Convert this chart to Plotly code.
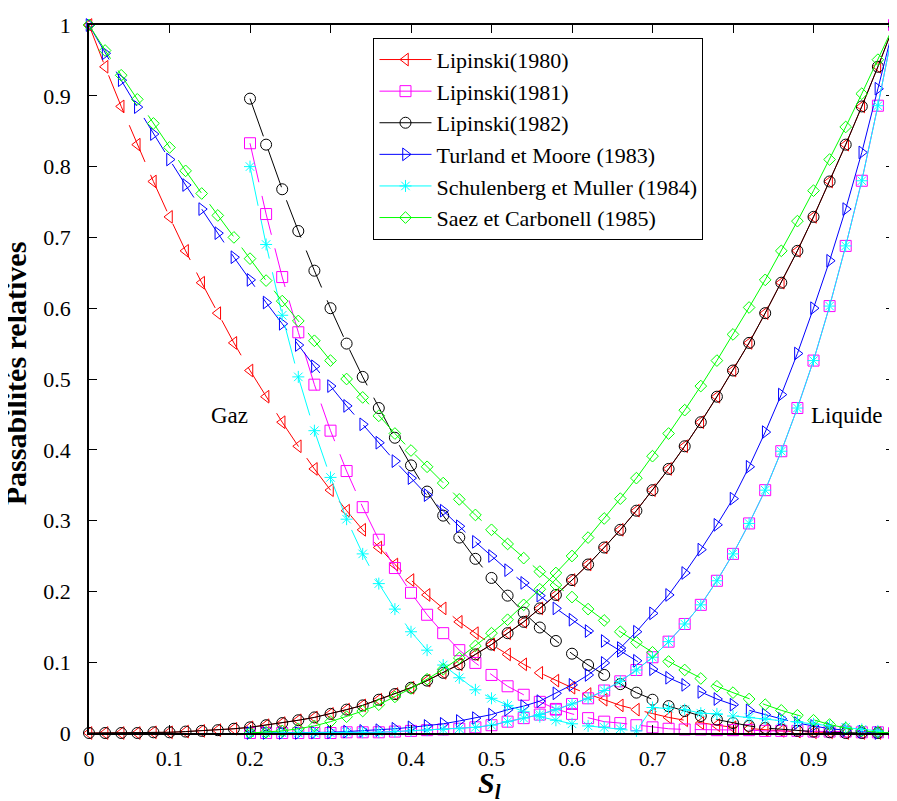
import plotly.graph_objects as go

# Saturation grid (liquid saturation S_l)
S_ALL = [0.00, 0.02, 0.04, 0.06, 0.08, 0.10, 0.12, 0.14, 0.16, 0.18,
         0.20, 0.22, 0.24, 0.26, 0.28, 0.30, 0.32, 0.34, 0.36, 0.38,
         0.40, 0.42, 0.44, 0.46, 0.48, 0.50, 0.52, 0.54, 0.56, 0.58,
         0.60, 0.62, 0.64, 0.66, 0.68, 0.70, 0.72, 0.74, 0.76, 0.78,
         0.80, 0.82, 0.84, 0.86, 0.88, 0.90, 0.92, 0.94, 0.96, 0.98, 1.00]
S_FROM_02 = [0.20, 0.22, 0.24, 0.26, 0.28, 0.30, 0.32, 0.34, 0.36, 0.38,
             0.40, 0.42, 0.44, 0.46, 0.48, 0.50, 0.52, 0.54, 0.56, 0.58,
             0.60, 0.62, 0.64, 0.66, 0.68, 0.70, 0.72, 0.74, 0.76, 0.78,
             0.80, 0.82, 0.84, 0.86, 0.88, 0.90, 0.92, 0.94, 0.96, 0.98, 1.00]

# Lipinski (1980)
lip80_gas = [1.000, 0.941, 0.885, 0.831, 0.779, 0.729, 0.681, 0.636, 0.593, 0.551,
             0.512, 0.475, 0.439, 0.405, 0.373, 0.343, 0.314, 0.287, 0.262, 0.238,
             0.216, 0.195, 0.176, 0.157, 0.141, 0.125, 0.111, 0.097, 0.085, 0.074,
             0.064, 0.055, 0.047, 0.039, 0.033, 0.027, 0.022, 0.018, 0.014, 0.011,
             0.008, 0.006, 0.004, 0.003, 0.002, 0.001, 0.001, 0.000, 0.000, 0.000, 0.000]
lip80_liq = [0.000, 0.000, 0.000, 0.000, 0.001, 0.001, 0.002, 0.003, 0.004, 0.006,
             0.008, 0.011, 0.014, 0.018, 0.022, 0.027, 0.033, 0.039, 0.047, 0.055,
             0.064, 0.074, 0.085, 0.097, 0.111, 0.125, 0.141, 0.157, 0.176, 0.195,
             0.216, 0.238, 0.262, 0.287, 0.314, 0.343, 0.373, 0.405, 0.439, 0.475,
             0.512, 0.551, 0.593, 0.636, 0.681, 0.729, 0.779, 0.831, 0.885, 0.941, 1.000]

# Lipinski (1981)
lip81_gas = [0.833, 0.733, 0.644, 0.566, 0.492, 0.427, 0.370, 0.319, 0.273, 0.233,
             0.198, 0.167, 0.141, 0.117, 0.099, 0.082, 0.066, 0.054, 0.044, 0.034,
             0.027, 0.021, 0.016, 0.014, 0.011, 0.008, 0.006, 0.005, 0.005, 0.004,
             0.004, 0.004, 0.003, 0.003, 0.003, 0.002, 0.002, 0.002, 0.001, 0.001, 0.000]
lip81_liq = [0.000, 0.000, 0.000, 0.000, 0.000, 0.000, 0.001, 0.001, 0.001, 0.002,
             0.003, 0.004, 0.005, 0.006, 0.008, 0.011, 0.016, 0.021, 0.026, 0.033,
             0.041, 0.049, 0.060, 0.073, 0.089, 0.107, 0.129, 0.154, 0.181, 0.215,
             0.253, 0.296, 0.343, 0.398, 0.459, 0.526, 0.603, 0.688, 0.780, 0.886, 1.000]

# Lipinski (1982)
lip82_gas = [0.896, 0.831, 0.768, 0.709, 0.653, 0.600, 0.550, 0.503, 0.459, 0.417,
             0.378, 0.341, 0.307, 0.276, 0.246, 0.219, 0.194, 0.170, 0.149, 0.130,
             0.112, 0.096, 0.082, 0.069, 0.057, 0.047, 0.038, 0.031, 0.024, 0.019,
             0.014, 0.010, 0.007, 0.005, 0.003, 0.002, 0.001, 0.000, 0.000, 0.000, 0.000]
lip82_liq = [0.000, 0.000, 0.000, 0.000, 0.001, 0.001, 0.002, 0.003, 0.004, 0.006,
             0.008, 0.011, 0.014, 0.018, 0.022, 0.027, 0.033, 0.039, 0.047, 0.055,
             0.064, 0.074, 0.085, 0.097, 0.111, 0.125, 0.141, 0.157, 0.176, 0.195,
             0.216, 0.238, 0.262, 0.287, 0.314, 0.343, 0.373, 0.405, 0.439, 0.475,
             0.512, 0.551, 0.593, 0.636, 0.681, 0.729, 0.779, 0.831, 0.885, 0.941, 1.000]

# Turland et Moore (1983)
tm_gas = [1.000, 0.960, 0.922, 0.884, 0.846, 0.810, 0.774, 0.740, 0.706, 0.672,
          0.640, 0.608, 0.578, 0.548, 0.518, 0.490, 0.462, 0.436, 0.410, 0.384,
          0.360, 0.336, 0.314, 0.292, 0.270, 0.250, 0.230, 0.212, 0.194, 0.176,
          0.160, 0.144, 0.130, 0.116, 0.102, 0.090, 0.078, 0.068, 0.058, 0.048,
          0.040, 0.032, 0.026, 0.020, 0.014, 0.010, 0.006, 0.004, 0.002, 0.000, 0.000]
tm_liq = [0.000, 0.000, 0.000, 0.000, 0.001, 0.001, 0.002, 0.003, 0.004, 0.006,
          0.008, 0.010, 0.013, 0.017, 0.021, 0.026, 0.033, 0.038, 0.045, 0.056,
          0.068, 0.082, 0.099, 0.120, 0.143, 0.169, 0.195, 0.226, 0.259, 0.294,
          0.331, 0.376, 0.425, 0.478, 0.536, 0.600, 0.667, 0.740, 0.820, 0.910, 1.000]

# Schulenberg et Muller (1984)
sm_gas = [0.800, 0.690, 0.590, 0.503, 0.427, 0.361, 0.302, 0.253, 0.211, 0.175,
          0.143, 0.117, 0.096, 0.078, 0.061, 0.049, 0.039, 0.030, 0.023, 0.018,
          0.013, 0.010, 0.008, 0.006, 0.003, 0.036, 0.035, 0.033, 0.028, 0.027,
          0.024, 0.022, 0.020, 0.018, 0.016, 0.013, 0.010, 0.008, 0.005, 0.003, 0.000]
sm_liq = [0.000, 0.000, 0.000, 0.000, 0.000, 0.000, 0.001, 0.001, 0.001, 0.002,
          0.003, 0.004, 0.005, 0.006, 0.008, 0.011, 0.016, 0.021, 0.026, 0.033,
          0.041, 0.049, 0.060, 0.073, 0.089, 0.107, 0.129, 0.154, 0.181, 0.215,
          0.253, 0.296, 0.343, 0.398, 0.459, 0.526, 0.603, 0.688, 0.780, 0.886, 1.000]

# Saez et Carbonell (1985)
sc_gas = [1.000, 0.964, 0.929, 0.895, 0.861, 0.827, 0.794, 0.762, 0.731, 0.700,
          0.670, 0.639, 0.610, 0.582, 0.554, 0.526, 0.500, 0.474, 0.448, 0.423,
          0.399, 0.376, 0.353, 0.330, 0.308, 0.287, 0.267, 0.247, 0.228, 0.209,
          0.192, 0.175, 0.159, 0.143, 0.128, 0.114, 0.101, 0.089, 0.077, 0.066,
          0.057, 0.048, 0.040, 0.032, 0.025, 0.018, 0.012, 0.007, 0.003, 0.001, 0.000]
sc_liq = [0.000, 0.001, 0.003, 0.006, 0.010, 0.016, 0.023, 0.031, 0.040, 0.051,
          0.063, 0.076, 0.090, 0.106, 0.123, 0.141, 0.160, 0.181, 0.203, 0.226,
          0.250, 0.276, 0.303, 0.331, 0.360, 0.391, 0.423, 0.456, 0.490, 0.526,
          0.563, 0.601, 0.640, 0.681, 0.723, 0.766, 0.810, 0.856, 0.903, 0.951, 1.000]

X_TICKS = [0, 0.1, 0.2, 0.3, 0.4, 0.5, 0.6, 0.7, 0.8, 0.9, 1]
X_TICK_LABELS = ["0", "0.1", "0.2", "0.3", "0.4", "0.5", "0.6", "0.7", "0.8", "0.9", "1"]
Y_TICKS = X_TICKS
Y_TICK_LABELS = X_TICK_LABELS

SERIES = [
    ("Lipinski(1980)", "#FF0000", "triangle-left-open", 11, S_ALL, lip80_gas, S_ALL, lip80_liq),
    ("Lipinski(1981)", "#FF00FF", "square-open", 11, S_FROM_02, lip81_gas, S_FROM_02, lip81_liq),
    ("Lipinski(1982)", "#000000", "circle-open", 11, S_FROM_02, lip82_gas, S_ALL, lip82_liq),
    ("Turland et Moore (1983)", "#0000FF", "triangle-right-open", 11, S_ALL, tm_gas, S_FROM_02, tm_liq),
    ("Schulenberg et Muller (1984)", "#00FFFF", "asterisk-open", 10, S_FROM_02, sm_gas, S_FROM_02, sm_liq),
    ("Saez et Carbonell (1985)", "#00FF00", "diamond-open", 9, S_ALL, sc_gas, S_FROM_02, sc_liq),
]

FONT = "'Liberation Serif', 'Times New Roman', Times, 'DejaVu Serif', serif"

fig = go.Figure()
for name, color, sym, msize, xg, yg, xl, yl in SERIES:
    fig.add_trace(go.Scatter(
        x=xg, y=yg, mode="lines+markers", name=name, showlegend=False,
        line=dict(color=color, width=1, dash="40px,14px"),
        marker=dict(symbol=sym, size=msize, color=color, line=dict(color=color, width=1)),
        cliponaxis=False, hoverinfo="skip"))
    fig.add_trace(go.Scatter(
        x=xl, y=yl, mode="lines+markers", name=name, showlegend=True,
        line=dict(color=color, width=1),
        marker=dict(symbol=sym, size=msize, color=color, line=dict(color=color, width=1)),
        cliponaxis=False, hoverinfo="skip"))

axis_common = dict(
    range=[0, 1], showgrid=False, zeroline=False, showline=True, linecolor="black",
    linewidth=1.5, mirror="allticks", ticks="inside", ticklen=8, tickwidth=1,
    tickcolor="black", tickfont=dict(family=FONT, size=22, color="black"),
    ticklabeloverflow="allow",
)

fig.update_layout(
    width=897, height=801,
    margin=dict(l=81, r=5, t=16, b=76),
    paper_bgcolor="white", plot_bgcolor="white",
    xaxis=dict(tickvals=X_TICKS, ticktext=X_TICK_LABELS, ticklabelstandoff=5, **axis_common),
    yaxis=dict(tickvals=Y_TICKS, ticktext=Y_TICK_LABELS, ticklabelstandoff=12, **axis_common),
    legend=dict(
        x=0.3534, y=0.982, xanchor="left", yanchor="top",
        bgcolor="white", bordercolor="black", borderwidth=1,
        font=dict(family=FONT, size=22, color="black"),
        itemwidth=52, tracegroupgap=0,
    ),
    font=dict(family=FONT, color="black"),
    annotations=[
        dict(text="Gaz", x=0.174, y=0.449, xref="x", yref="y", showarrow=False,
             font=dict(family=FONT, size=23, color="black")),
        dict(text="Liquide", x=0.942, y=0.449, xref="x", yref="y", showarrow=False,
             font=dict(family=FONT, size=23, color="black")),
        dict(text="<b>Passabilités relatives</b>", textangle=-90,
             x=-0.092, y=0.508, xref="paper", yref="paper", xanchor="center", yanchor="middle",
             showarrow=False, font=dict(family=FONT, size=30, color="black")),
        dict(text="<b><i>S</i></b><sub><b><i>l</i></b></sub>",
             x=0.497, y=-0.074, xref="paper", yref="paper", xanchor="center", yanchor="middle",
             showarrow=False, font=dict(family=FONT, size=30, color="black")),
    ],
)

fig.write_html("out.html")
